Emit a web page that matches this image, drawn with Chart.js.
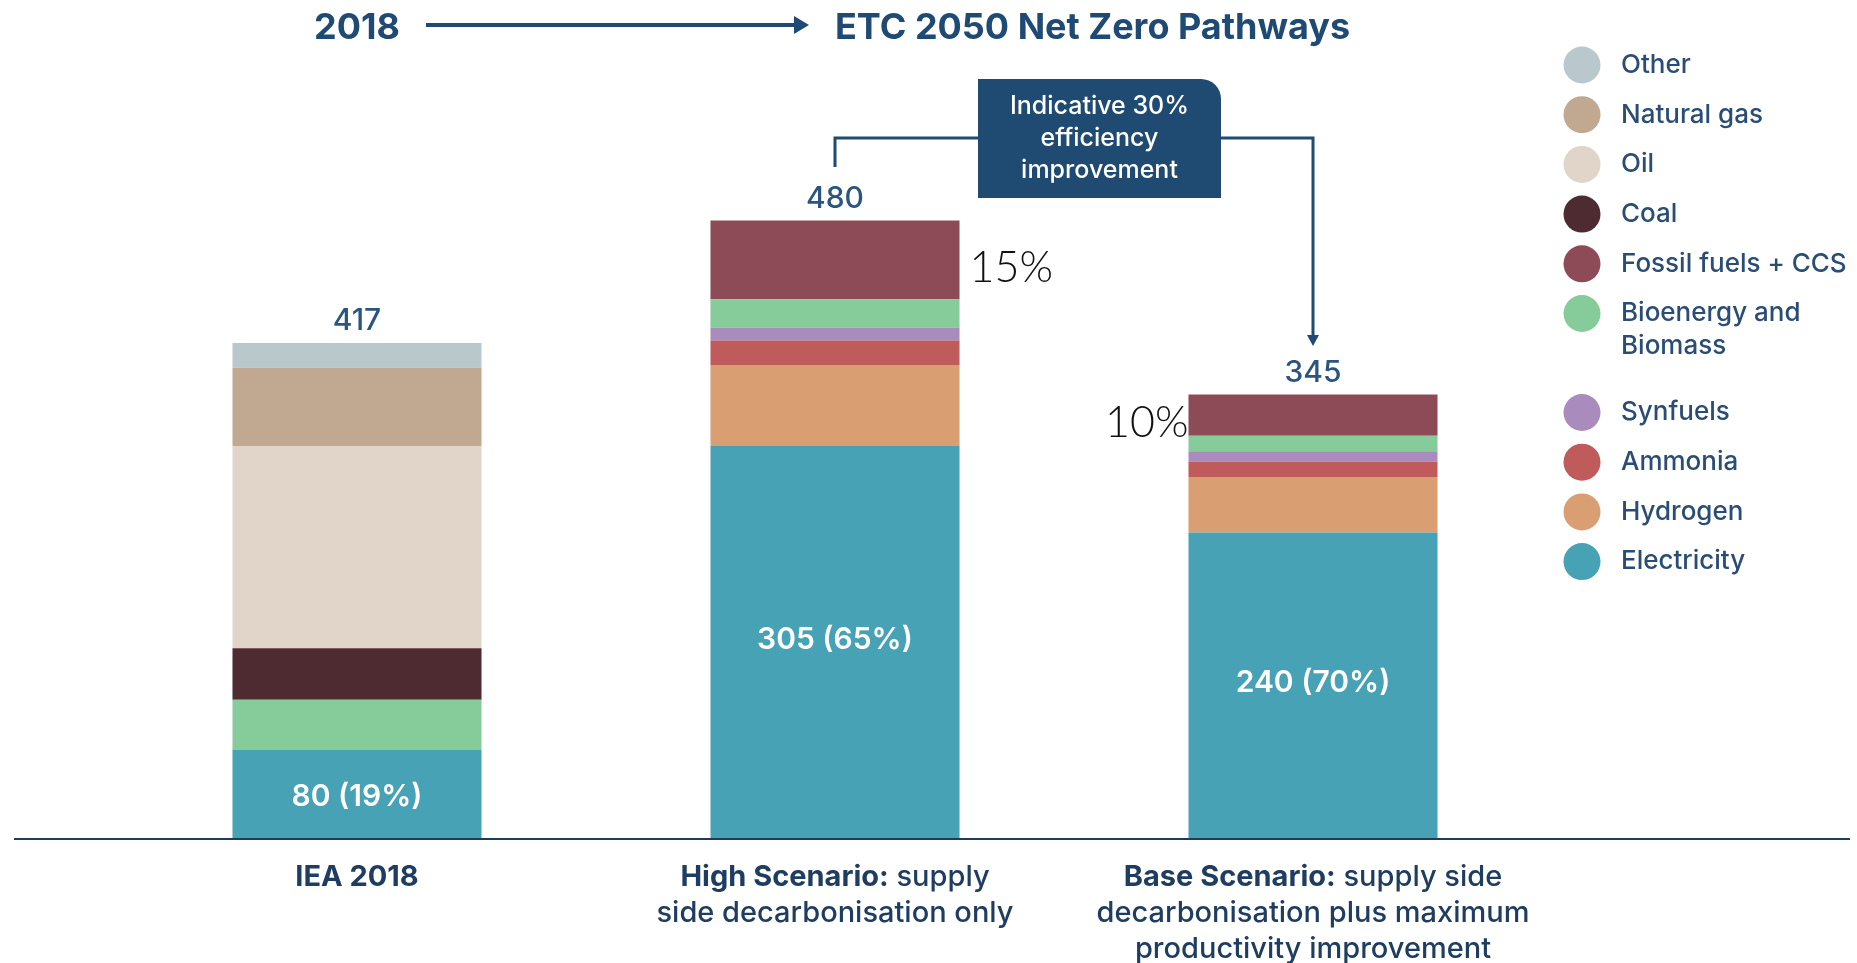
<!DOCTYPE html>
<html>
<head>
<meta charset="utf-8">
<script src="https://cdn.jsdelivr.net/npm/chart.js@4/dist/chart.umd.min.js"></script>
<style>
  html, body { margin: 0; padding: 0; background: #fff; }
  #wrap { width: 1857px; height: 963px; position: relative; }
</style>
</head>
<body>
<div id="wrap"><canvas id="energy_chart"></canvas></div>
<script>
'use strict'
// Data (EJ), bottom of stack first
const categories = ['IEA 2018', 'High Scenario', 'Base Scenario'];
const electricity = [69, 305, 238];
const hydrogen = [0, 63, 43];
const ammonia = [0, 19, 12];
const synfuels = [0, 10, 8];
const bioenergy = [39, 22, 12];
const fossilCcs = [0, 61, 32];
const coal = [40, 0, 0];
const oil = [157, 0, 0];
const naturalGas = [61, 0, 0];
const other = [19, 0, 0];

const totalLabels = ['417', '480', '345'];
const electricityLabels = ['80 (19%)', '305 (65%)', '240 (70%)'];
const fossilShareLabels = ['', '15%', '10%'];
const categoryLines = [
    [[['IEA 2018', true]]],
    [[['High Scenario:', true], [' supply', false]],
     [['side decarbonisation only', false]]],
    [[['Base Scenario:', true], [' supply side', false]],
     [['decarbonisation plus maximum', false]],
     [['productivity improvement', false]]],
];

const NAVY = '#1f4a74';
const FONT = 'Inter, "Open Sans", sans-serif';

let series = [
    { label: 'Electricity', data: electricity, color: '#48a2b5' },
    { label: 'Hydrogen', data: hydrogen, color: '#d99f72' },
    { label: 'Ammonia', data: ammonia, color: '#c05b5b' },
    { label: 'Synfuels', data: synfuels, color: '#a98bbd' },
    { label: 'Bioenergy and Biomass', data: bioenergy, color: '#86cb9a' },
    { label: 'Fossil fuels + CCS', data: fossilCcs, color: '#8c4b57' },
    { label: 'Coal', data: coal, color: '#4e2a31' },
    { label: 'Oil', data: oil, color: '#e1d5ca' },
    { label: 'Natural gas', data: naturalGas, color: '#c1a891' },
    { label: 'Other', data: other, color: '#b9c8cc' },
];

function drawArrowHead(ctx, x, y, dir, len, half) {
    ctx.beginPath();
    if (dir === 'right') {
        ctx.moveTo(x, y);
        ctx.lineTo(x - len, y - half);
        ctx.lineTo(x - len, y + half);
    } else {
        ctx.moveTo(x, y);
        ctx.lineTo(x - half, y - len);
        ctx.lineTo(x + half, y - len);
    }
    ctx.closePath();
    ctx.fill();
}

let annotationPlugin = {
    id: 'annotations',
    afterDraw: function (chart) {
        let ctx = chart.ctx;
        let yScale = chart.scales.y;
        let zeroY = yScale.getPixelForValue(0);
        let elecMeta = chart.getDatasetMeta(0);
        let fossilMeta = chart.getDatasetMeta(5);
        ctx.save();

        // baseline
        ctx.strokeStyle = '#1f3b57';
        ctx.lineWidth = 2;
        ctx.beginPath();
        ctx.moveTo(14, zeroY);
        ctx.lineTo(1850, zeroY);
        ctx.stroke();

        let centers = elecMeta.data.map(function (bar) { return bar.x; });

        // header
        ctx.fillStyle = NAVY;
        ctx.strokeStyle = NAVY;
        ctx.font = 'bold 36px ' + FONT;
        ctx.textBaseline = 'middle';
        ctx.textAlign = 'center';
        ctx.fillText('2018', centers[0], 28);
        ctx.textAlign = 'left';
        ctx.fillText('ETC 2050 Net Zero Pathways', centers[1], 28);
        ctx.lineWidth = 4;
        ctx.beginPath();
        ctx.moveTo(426, 25);
        ctx.lineTo(796, 25);
        ctx.stroke();
        drawArrowHead(ctx, 809, 25, 'right', 15, 9);

        // totals above bars
        ctx.textAlign = 'center';
        ctx.textBaseline = 'bottom';
        ctx.font = '500 30px ' + FONT;
        ctx.fillStyle = '#2b5580';
        categories.forEach(function (c, i) {
            let sum = 0;
            series.forEach(function (s) { sum += s.data[i]; });
            let topY = yScale.getPixelForValue(sum);
            ctx.fillText(totalLabels[i], centers[i], topY - 7);
        });

        // electricity labels
        ctx.fillStyle = '#ffffff';
        ctx.font = '600 30px ' + FONT;
        ctx.textBaseline = 'middle';
        elecMeta.data.forEach(function (bar, i) {
            let off = i === 0 ? 2 : -3;
            ctx.fillText(electricityLabels[i], bar.x, (bar.y + bar.base) / 2 + off);
        });

        // fossil + CCS shares
        ctx.fillStyle = '#111111';
        ctx.font = '300 43px Lato, "Open Sans", sans-serif';
        fossilMeta.data.forEach(function (bar, i) {
            if (!fossilShareLabels[i]) return;
            let midY = (bar.y + bar.base) / 2 + 8;
            if (i === 1) {
                ctx.textAlign = 'left';
                ctx.fillText(fossilShareLabels[i], bar.x + bar.width / 2 + 10, midY);
            } else {
                ctx.textAlign = 'right';
                ctx.fillText(fossilShareLabels[i], bar.x - bar.width / 2, midY);
            }
        });

        // callout box with connectors
        let boxX = 978, boxY = 79, boxW = 243, boxH = 119;
        let linkY = 138;
        ctx.strokeStyle = '#1f4a72';
        ctx.fillStyle = '#1f4a72';
        ctx.lineWidth = 3;
        ctx.beginPath();
        ctx.moveTo(boxX, linkY);
        ctx.lineTo(centers[1], linkY);
        ctx.lineTo(centers[1], 167);
        ctx.stroke();
        ctx.beginPath();
        ctx.moveTo(boxX + boxW, linkY);
        ctx.lineTo(centers[2], linkY);
        ctx.lineTo(centers[2], 336);
        ctx.stroke();
        drawArrowHead(ctx, centers[2], 346, 'down', 11, 6);
        ctx.beginPath();
        ctx.roundRect(boxX, boxY, boxW, boxH, [0, 20, 0, 0]);
        ctx.fill();
        ctx.fillStyle = '#ffffff';
        ctx.font = '500 25px ' + FONT;
        ctx.textAlign = 'center';
        ['Indicative 30%', 'efficiency', 'improvement'].forEach(function (t, k) {
            ctx.fillText(t, boxX + boxW / 2, 106 + k * 32);
        });

        // category labels
        ctx.fillStyle = '#1f3d60';
        ctx.textAlign = 'left';
        categoryLines.forEach(function (lines, i) {
            lines.forEach(function (parts, k) {
                let width = 0;
                parts.forEach(function (p) {
                    ctx.font = (p[1] ? '700 29px ' : '500 29px ') + FONT;
                    width += ctx.measureText(p[0]).width;
                });
                let x = centers[i] - width / 2;
                let y = zeroY + 38 + k * 36;
                parts.forEach(function (p) {
                    ctx.font = (p[1] ? '700 29px ' : '500 29px ') + FONT;
                    ctx.fillText(p[0], x, y);
                    x += ctx.measureText(p[0]).width;
                });
            });
        });

        // legend
        ctx.font = '500 26px ' + FONT;
        let rowY = 65;
        series.slice().reverse().forEach(function (s) {
            ctx.fillStyle = s.color;
            ctx.beginPath();
            ctx.arc(1582, rowY, 18.5, 0, Math.PI * 2);
            ctx.fill();
            ctx.fillStyle = '#2a4d75';
            if (s.label === 'Bioenergy and Biomass') {
                ctx.fillText('Bioenergy and', 1621, rowY);
                ctx.fillText('Biomass', 1621, rowY + 33);
                rowY += 99;
            } else {
                ctx.fillText(s.label, 1621, rowY);
                rowY += 49.7;
            }
        });
        ctx.restore();
    },
};

let energyChart = new Chart('energy_chart', {
    type: 'bar',
    data: {
        labels: categories,
        datasets: series.map(function (s) {
            return {
                label: s.label,
                data: s.data,
                backgroundColor: s.color,
                borderWidth: 0,
                barPercentage: 0.521,
                categoryPercentage: 1,
            };
        }),
    },
    options: {
        responsive: true,
        maintainAspectRatio: false,
        animation: false,
        layout: { padding: { top: 66, bottom: 124, left: 118, right: 305 } },
        plugins: {
            legend: { display: false },
            tooltip: { enabled: false },
        },
        scales: {
            x: { stacked: true, display: false },
            y: { stacked: true, display: false, min: 0, max: 600 },
        },
    },
    plugins: [annotationPlugin],
});
</script>
</body>
</html>
